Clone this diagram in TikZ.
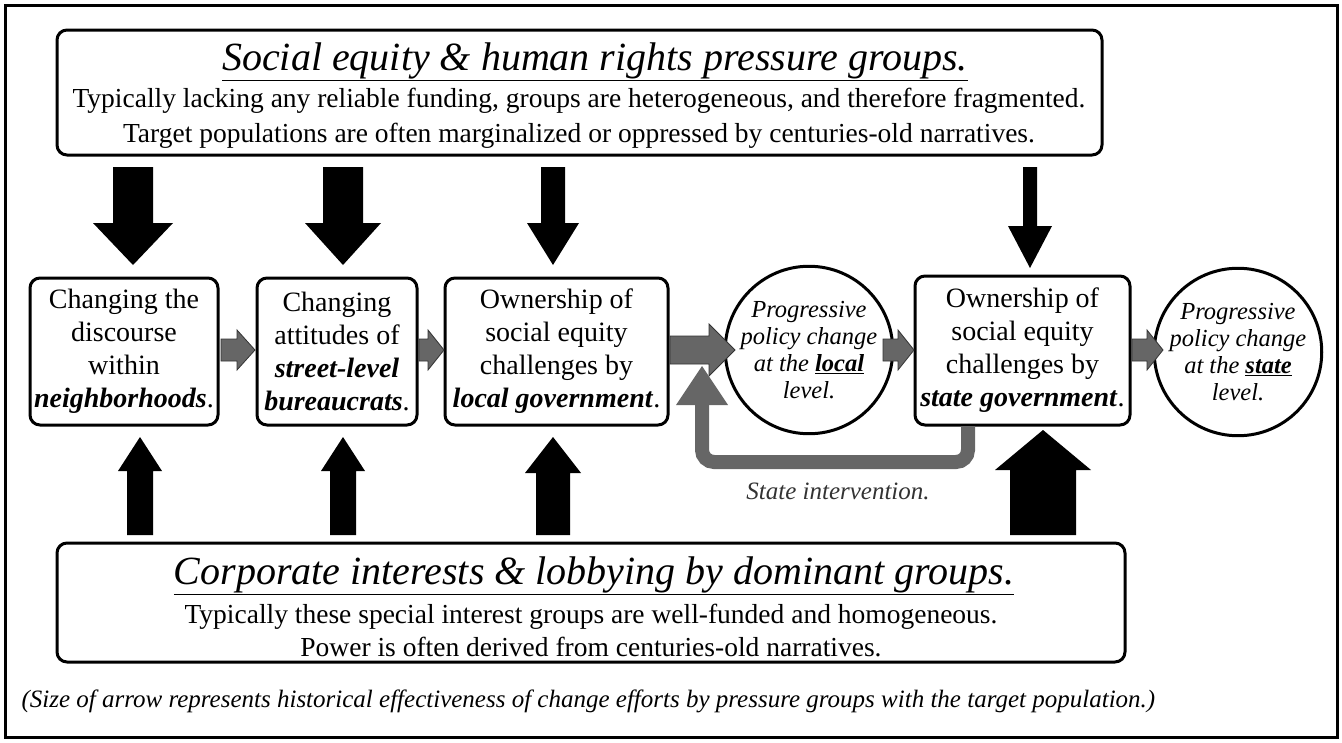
\documentclass[tikz,border=0pt]{standalone}
\usepackage{fontspec}
\setmainfont{Liberation Serif}
\begin{document}
\begin{tikzpicture}[x=1pt,y=-1pt,
  box/.style={draw,line width=3pt,rounded corners=10pt,align=center,inner sep=0pt},
  circ/.style={draw,line width=3pt,circle,align=center,inner sep=0pt,minimum size=146pt,font=\fontsize{24.5}{27}\selectfont\itshape},
  mid/.style={font=\fontsize{28}{33}\selectfont},
  garrow/.style={fill=black!60,draw=black!80,line width=0.8pt},
  barrow/.style={fill=black}]
\useasboundingbox (0,0) rectangle (1342,742);
\draw[line width=3pt] (5,5) rectangle (1337,737);
% vertical block arrow: x, ytail, ytip, shaft half width, head half width, signed head length
\newcommand\varrow[7][barrow]{\fill[#1] (#2-#5,#3) -- (#2-#5,#4-#7) -- (#2-#6,#4-#7) -- (#2,#4) -- (#2+#6,#4-#7) -- (#2+#5,#4-#7) -- (#2+#5,#3) -- cycle;}
\newcommand\harrow[6]{\filldraw[garrow] (#1,#3-#4) -- (#2-#6,#3-#4) -- (#2-#6,#3-#5) -- (#2,#3) -- (#2-#6,#3+#5) -- (#2-#6,#3+#4) -- (#1,#3+#4) -- cycle;}
% top and bottom boxes
\node[box,minimum width=1045pt,minimum height=125pt] (top) at (579.5,92.5) {};
\node[font=\fontsize{40}{46}\selectfont\itshape] (toptitle) at (595,62) {\underline{Social equity \& human rights pressure groups.}};
\node[font=\fontsize{27.5}{35}\selectfont,align=center] (toptext) at (579,118) {Typically lacking any reliable funding, groups are heterogeneous, and therefore fragmented.\\Target populations are often marginalized or oppressed by centuries-old narratives.};
\node[box,minimum width=1068pt,minimum height=119pt] (bot) at (591,602.5) {};
\node[font=\fontsize{40}{46}\selectfont\itshape] (bottitle) at (594,576) {\underline{Corporate interests \& lobbying by dominant groups.}};
\node[font=\fontsize{27.5}{33}\selectfont,align=center] (bottext) at (591,631) {Typically these special interest groups are well-funded and homogeneous.\\Power is often derived from centuries-old narratives.};
\node[font=\fontsize{25}{28}\selectfont\itshape,anchor=west] (foot) at (18,701) {(Size of arrow represents historical effectiveness of change efforts by pressure groups with the target population.)};
% middle row
\node[box,mid,minimum width=188pt,minimum height=147pt] (b1) at (124,351.5) {Changing the\\discourse\\within\\\textbf{\textit{neighborhoods}}.};
\node[box,mid,minimum width=160pt,minimum height=147pt] (b2) at (337,351.5) {Changing\\attitudes of\\\textbf{\textit{street-level}}\\\textbf{\textit{bureaucrats}}.};
\node[box,mid,minimum width=223pt,minimum height=147pt] (b3) at (556.5,351.5) {Ownership of\\social equity\\challenges by\\\textbf{\textit{local government}}.};
\node[circ] (c1) at (809,350) {Progressive\\policy change\\at the \underline{\textbf{local}}\\level.};
\node[box,mid,minimum width=215pt,minimum height=149pt] (b4) at (1022.5,350.5) {Ownership of\\social equity\\challenges by\\\textbf{\textit{state government}}.};
\node[circ] (c2) at (1238,352) {Progressive\\policy change\\at the \underline{\textbf{state}}\\level.};
% gray arrows
\harrow{221}{255}{350}{11}{20}{18}
\harrow{419}{444}{350}{11}{20}{16}
\harrow{670}{735}{350}{14}{26}{26}
\harrow{883}{914}{350}{11}{20}{16}
\harrow{1132}{1163}{350}{11}{20}{16}
% feedback
\draw[black!60,line width=14pt,rounded corners=12pt] (968,426) -- (968,462) -- (702,462) -- (702,400);
\fill[black!60] (676,405) -- (702,366) -- (728,405) -- cycle;
\node[font=\fontsize{25}{28}\selectfont\itshape,text=black!80] (si) at (838,491) {State intervention.};
% down arrows
\varrow{133}{167}{265}{20}{40}{42}
\varrow{343}{167}{265}{20}{38}{42}
\varrow{553}{167}{265}{12}{26}{42}
\varrow{1030}{167}{268}{7}{22}{42}
% up arrows
\varrow{140}{535}{437}{13}{22}{-34}
\varrow{343}{535}{437}{13}{22}{-34}
\varrow{553}{535}{437}{17}{28}{-36}
\varrow{1043}{535}{430}{33}{48}{-40}
\end{tikzpicture}
\end{document}
